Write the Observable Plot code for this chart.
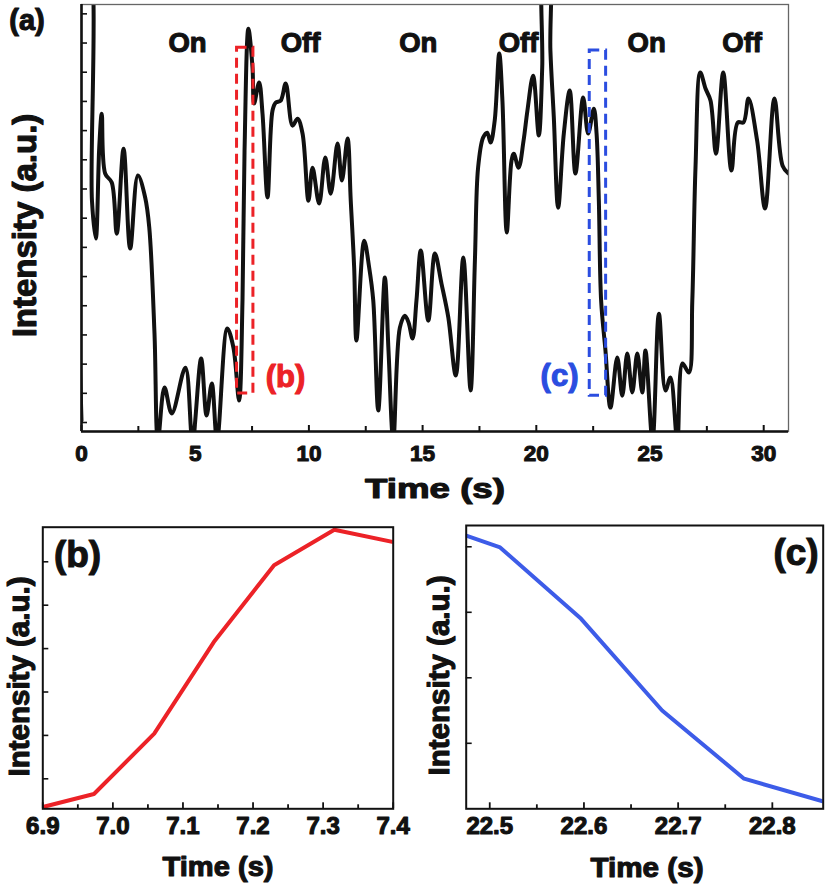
<!DOCTYPE html>
<html>
<head>
<meta charset="utf-8">
<script src="https://cdn.jsdelivr.net/npm/d3@7"></script>
<script src="https://cdn.jsdelivr.net/npm/@observablehq/plot@0.6"></script>
<style>
  body { margin: 0; background: #fff; }
  #fig { position: relative; width: 825px; height: 885px; overflow: hidden; background: #fff; }
</style>
</head>
<body>
<div id="fig"></div>
<script>
// ---------- data: panel (a) blinking trace ----------
const traceTime = [
  0.00, 0.07, 0.31, 0.46, 0.63, 0.78, 0.89, 1.04, 1.33, 1.55,
  1.85, 2.14, 2.48, 2.80, 2.98, 3.21, 3.36, 3.65, 3.97, 4.57,
  4.88, 5.26, 5.50, 5.73, 5.96, 6.41, 6.68, 6.93, 7.08, 7.17,
  7.34, 7.52, 7.59, 7.81, 7.96, 8.18, 8.40, 8.54, 8.76, 8.98,
  9.28, 9.50, 9.72, 9.98, 10.16, 10.45, 10.72, 10.96, 11.26, 11.45,
  11.70, 11.84, 11.99, 12.09, 12.43, 12.65, 12.83, 13.05, 13.34, 13.50,
  13.71, 14.00, 14.22, 14.38, 14.56, 14.73, 14.92, 15.25, 15.54, 15.83,
  16.13, 16.46, 16.79, 17.11, 17.30, 17.44, 17.66, 17.84, 17.99, 18.17,
  18.37, 18.51, 18.70, 18.91, 19.01, 19.22, 19.44, 19.61, 19.86, 20.11,
  20.26, 20.34, 20.54, 20.62, 20.77, 20.96, 21.21, 21.47, 21.72, 22.06,
  22.28, 22.53, 22.65, 22.75, 22.85, 23.04, 23.26, 23.56, 23.78, 24.00,
  24.22, 24.44, 24.66, 24.80, 25.11, 25.39, 25.68, 25.90, 26.20, 26.43,
  26.71, 26.86, 27.00, 27.21, 27.44, 27.66, 27.90, 28.22, 28.58, 28.86,
  29.11, 29.33, 29.71, 30.06, 30.47, 30.83, 31.09
];
const traceIntensity = [
  10.7, 170, 170, 86.0, 73.0, 104.2, 115.8, 95.3, 92.2, 74.7,
  103.8, 69.6, 94.6, 87.1, 76.8, 40.5, 3.8, 22.0, 13.1, 28.8,
  3.8, 31.9, 12.4, 23.4, 3.8, 42.2, 35.7, 17.5, 51.8, 103.2,
  144.9, 131.6, 119.3, 126.5, 115.8, 87.1, 116.9, 119.6, 120.3, 126.1,
  111.7, 114.1, 109.0, 86.0, 97.3, 85.0, 100.8, 88.4, 105.6, 92.9,
  107.3, 86.0, 63.1, 38.1, 72.3, 63.1, 51.8, 14.1, 59.7, 34.7,
  3.8, 42.5, 46.6, 44.3, 38.8, 51.8, 68.9, 44.9, 67.9, 57.6,
  46.0, 26.1, 66.5, 21.0, 65.5, 97.3, 107.6, 109.3, 105.9, 113.4,
  136.4, 120.3, 75.1, 99.7, 102.1, 97.3, 106.6, 116.9, 128.8, 108.3,
  131.6, 168.2, 168.2, 137.4, 114.5, 83.6, 109.0, 123.7, 95.3, 121.3,
  109.0, 117.5, 109.0, 86.0, 51.8, 34.7, 15.1, 32.3, 19.2, 33.6,
  20.3, 33.6, 20.3, 34.7, 3.8, 47.3, 21.0, 25.4, 3.8, 30.2,
  27.1, 51.8, 97.3, 129.9, 124.4, 120.3, 102.1, 129.9, 96.3, 112.8,
  112.8, 121.0, 106.6, 83.3, 121.0, 98.0, 95.3
];
const stateLabels = ["On", "Off", "On", "Off", "On", "Off"];
const stateTimes = [4.66, 9.63, 14.81, 19.22, 24.85, 29.05];

// zoom windows marked on panel (a)
const windowNames = ["(b)", "(c)"];
const windowStart = [6.84, 22.35];
const windowEnd = [7.56, 23.07];
const windowLow = [19.9, 19.2];
const windowHigh = [138.4, 137.4];
const windowTagTime = [8.97, 21.02];
const windowTagIntensity = [25.4, 25.8];

// ---------- data: panel (b) rise ----------
const riseTime = [6.9, 6.973, 7.059, 7.144, 7.230, 7.316, 7.401];
const riseIntensity = [0.35, 0.65, 2.04, 4.15, 5.92, 6.74, 6.45];

// ---------- data: panel (c) decay ----------
const decayTime = [22.475, 22.511, 22.597, 22.683, 22.770, 22.857];
const decayIntensity = [4.17, 3.99, 2.90, 1.50, 0.46, 0.10];

// ---------- axes / ticks ----------
const xDomainA = [0, 31.09];
const yDomainA = [6.92, 153.2];
const xTicksA = [0, 5, 10, 15, 20, 25, 30];
const xMinorTicksA = [2.5, 7.5, 12.5, 17.5, 22.5, 27.5];
const yTicksA = [10, 20, 30, 40, 50, 60, 70, 80, 90, 100, 110, 120, 130, 140, 150];

const xDomainB = [6.9, 7.4];
const yDomainB = [0.309, 6.797];
const xTicksB = [6.9, 7.0, 7.1, 7.2, 7.3, 7.4];
const xMinorTicksB = [6.95, 7.05, 7.15, 7.25, 7.35];
const yTicksB = [1, 2, 3, 4, 5, 6];

const xDomainC = [22.475, 22.854];
const yDomainC = [0, 4.325];
const xTicksC = [22.5, 22.6, 22.7, 22.8];
const xMinorTicksC = [22.55, 22.65, 22.75];
const yTicksC = [1, 2, 3, 4];

const panelTags = ["(a)", "(b)", "(c)"];
const xLabel = "Time (s)";
const yLabel = "Intensity (a.u.)";

// ---------- styling ----------
const FONT = "'Liberation Sans', Arial, Helvetica, sans-serif";
const INK = "#111";
const RED = "#ec2227";
const BLUE = "#2b4de0";
const BLUE_LINE = "#3d5ce8";
const HEAVY = 1.1;   // extra glyph weight
const fig = document.getElementById("fig");

function place(svg, left, top) {
  svg.style.position = "absolute";
  svg.style.left = left + "px";
  svg.style.top = top + "px";
  fig.append(svg);
}
function fitText(svg, str, len) {
  d3.select(svg).selectAll("text")
    .filter(function () { return this.textContent === str; })
    .attr("textLength", len)
    .attr("lengthAdjust", "spacingAndGlyphs");
}
function ticksX(values, size, sw) {
  return Plot.axisX({ticks: values, tickSize: size, dy: -size, fill: "none", label: null, stroke: INK, strokeWidth: sw});
}
function ticksY(values, size, sw) {
  return Plot.axisY({ticks: values, tickSize: size, dx: size, fill: "none", label: null, stroke: INK, strokeWidth: sw});
}
function labelsX(values, fmt, pad, fs) {
  return Plot.axisX({ticks: values, tickSize: 0, tickPadding: pad, tickFormat: fmt,
    fontSize: fs, fontWeight: "bold", label: null, fill: INK,
    textStroke: INK, textStrokeWidth: HEAVY});
}
function label(str, color, opts) {
  return Plot.text([str], {text: d => d, fill: color, stroke: color, strokeWidth: HEAVY,
    fontWeight: "bold", textAnchor: "middle", lineAnchor: "middle", ...opts});
}

// ---------- panel (a) ----------
const trace = traceTime.map((t, i) => ({t, v: traceIntensity[i]}));
const states = stateLabels.map((s, i) => ({s, t: stateTimes[i]}));
const windows = windowNames.map((n, i) => ({
  n, x1: windowStart[i], x2: windowEnd[i], y1: windowLow[i], y2: windowHigh[i],
  tt: windowTagTime[i], tv: windowTagIntensity[i]
}));

const plotA = Plot.plot({
  width: 825, height: 505,
  marginLeft: 81, marginRight: 37, marginTop: 4, marginBottom: 74,
  style: {fontFamily: FONT, background: "transparent", overflow: "visible"},
  x: {domain: xDomainA},
  y: {domain: yDomainA},
  marks: [
    Plot.line(trace, {x: "t", y: "v", stroke: INK, strokeWidth: 4, curve: "catmull-rom",
      strokeLinejoin: "round", clip: true}),
    Plot.rect([windows[0]], {x1: "x1", x2: "x2", y1: "y1", y2: "y2", fill: "none",
      stroke: RED, strokeWidth: 3, strokeDasharray: "10,6"}),
    Plot.rect([windows[1]], {x1: "x1", x2: "x2", y1: "y1", y2: "y2", fill: "none",
      stroke: BLUE, strokeWidth: 3, strokeDasharray: "10,6"}),
    Plot.frame({stroke: "#666", strokeWidth: 1.3}),
    Plot.ruleX([xDomainA[0]], {stroke: INK, strokeWidth: 2.6}),
    Plot.ruleY([yDomainA[0]], {stroke: INK, strokeWidth: 2.6}),
    ticksX(xTicksA, 6, 2),
    ticksX(xMinorTicksA, 5, 2),
    ticksY(yTicksA, 6, 1.6),
    labelsX(xTicksA, d => String(d), 13.5, 22.5),
    Plot.text(states, {x: "t", text: "s", frameAnchor: "top", dy: 39, lineAnchor: "middle",
      fontSize: 27.5, fontWeight: "bold", fill: INK, stroke: INK, strokeWidth: HEAVY}),
    Plot.text([windows[0]], {x: "tt", y: "tv", text: "n", fontSize: 31, fontWeight: "bold",
      fill: RED, stroke: RED, strokeWidth: HEAVY, lineAnchor: "middle"}),
    Plot.text([windows[1]], {x: "tt", y: "tv", text: "n", fontSize: 31, fontWeight: "bold",
      fill: BLUE, stroke: BLUE, strokeWidth: HEAVY, lineAnchor: "middle"}),
    label(panelTags[0], INK, {frameAnchor: "top-left", dx: -54.5, dy: 16, fontSize: 29}),
    label(yLabel, INK, {frameAnchor: "left", rotate: -90, dx: -56, dy: 7.5, fontSize: 33}),
    label(xLabel, INK, {frameAnchor: "bottom", dy: 66, lineAnchor: "bottom", fontSize: 28})
  ]
});
fitText(plotA, xLabel, 140);
place(plotA, 0, 0);

// ---------- panel (b) ----------
const rise = riseTime.map((t, i) => ({t, v: riseIntensity[i]}));
const plotB = Plot.plot({
  width: 420, height: 375,
  marginLeft: 42.3, marginRight: 27.3, marginTop: 16.7, marginBottom: 76.7,
  style: {fontFamily: FONT, background: "transparent", overflow: "visible"},
  x: {domain: xDomainB},
  y: {domain: yDomainB},
  marks: [
    Plot.line(rise, {x: "t", y: "v", stroke: RED, strokeWidth: 4, strokeLinejoin: "round", clip: true}),
    Plot.frame({stroke: INK, strokeWidth: 2}),
    ticksX(xTicksB, 6, 1.8),
    ticksX(xMinorTicksB, 4, 1.8),
    ticksY(yTicksB, 6, 1.6),
    labelsX(xTicksB, d3.format(".1f"), 8, 24),
    label(panelTags[1], INK, {frameAnchor: "top-left", dx: 34.7, dy: 28.3, fontSize: 37}),
    label(yLabel, INK, {frameAnchor: "left", rotate: -90, dx: -23.3, dy: 8.5, fontSize: 29.5}),
    label(xLabel, INK, {frameAnchor: "bottom", dy: 66.7, lineAnchor: "bottom", fontSize: 27})
  ]
});
fitText(plotB, xLabel, 111);
place(plotB, 0, 510);

// ---------- panel (c) ----------
const decay = decayTime.map((t, i) => ({t, v: decayIntensity[i]}));
const plotC = Plot.plot({
  width: 405, height: 375,
  marginLeft: 45.7, marginRight: 2.3, marginTop: 15, marginBottom: 76.7,
  style: {fontFamily: FONT, background: "transparent", overflow: "visible"},
  x: {domain: xDomainC},
  y: {domain: yDomainC},
  marks: [
    Plot.line(decay, {x: "t", y: "v", stroke: BLUE_LINE, strokeWidth: 4, strokeLinejoin: "round", clip: true}),
    Plot.frame({stroke: INK, strokeWidth: 2}),
    ticksX(xTicksC, 6, 1.8),
    ticksX(xMinorTicksC, 4, 1.8),
    ticksY(yTicksC, 6, 1.6),
    labelsX(xTicksC, d3.format(".1f"), 8, 24),
    label(panelTags[2], INK, {frameAnchor: "top-right", dx: -27.2, dy: 28, fontSize: 37}),
    label(yLabel, INK, {frameAnchor: "left", rotate: -90, dx: -26.7, dy: 8.3, fontSize: 29.5}),
    label(xLabel, INK, {frameAnchor: "bottom", dx: 2.3, dy: 68.4, lineAnchor: "bottom", fontSize: 27})
  ]
});
fitText(plotC, xLabel, 113);
place(plotC, 420, 510);
</script>
</body>
</html>
